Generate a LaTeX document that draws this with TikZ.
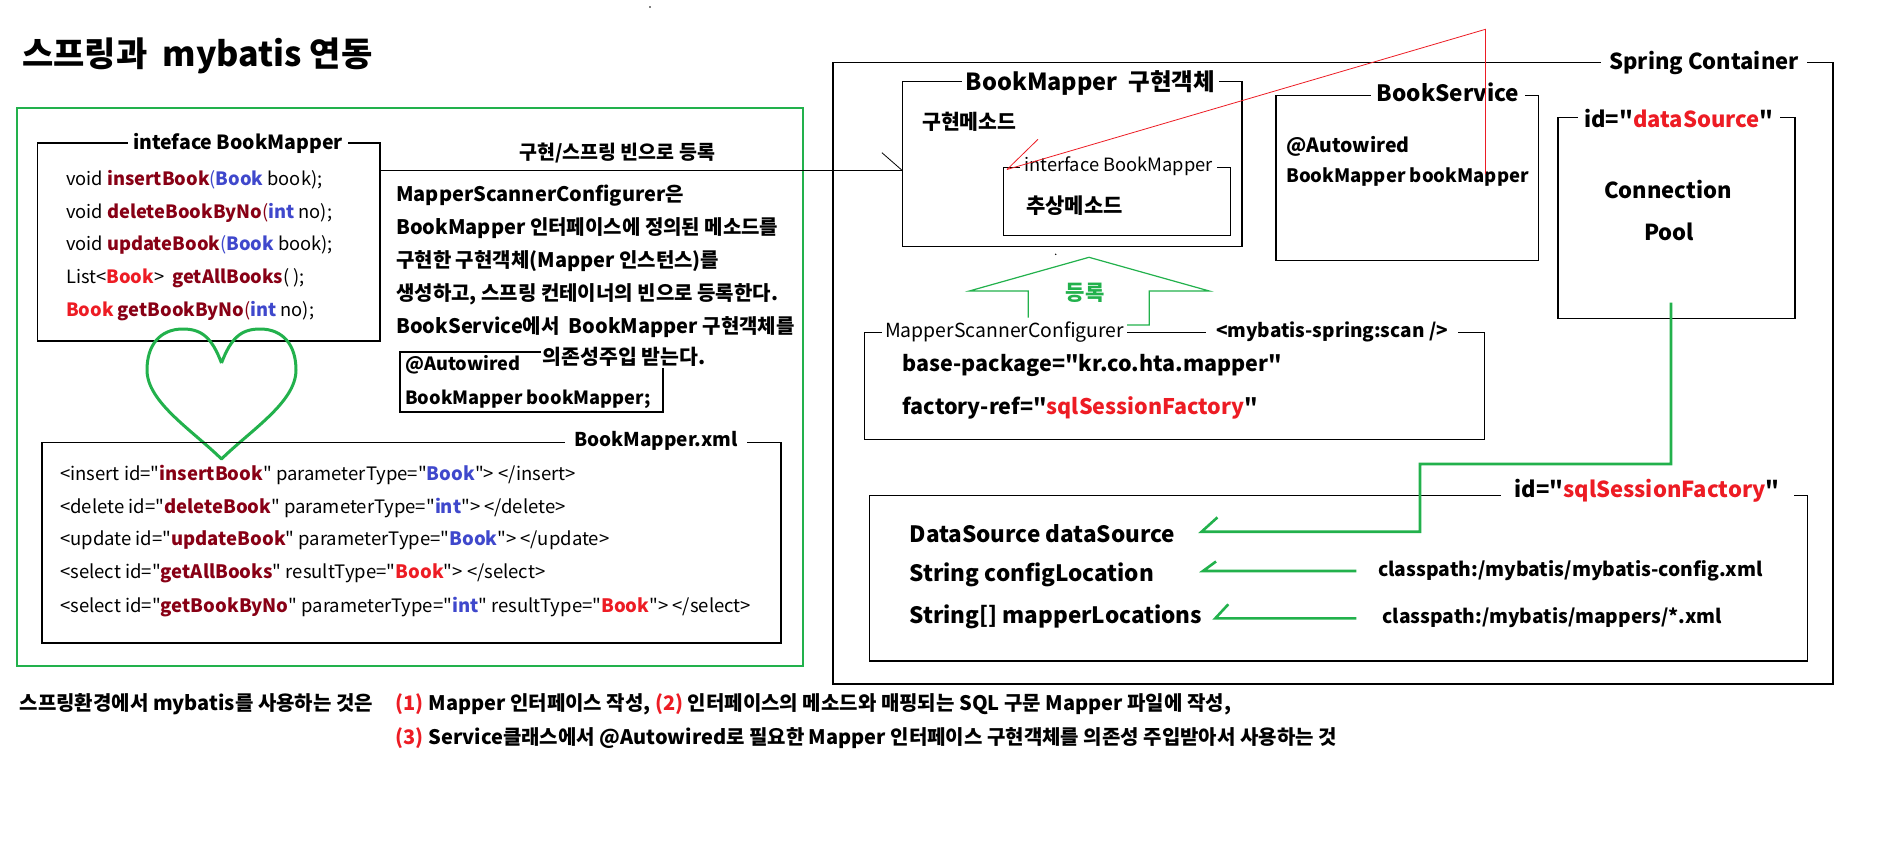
\documentclass[tikz,border=0pt]{standalone}
\usepackage{fontspec}
\setmainfont{Noto Sans CJK KR}[Ligatures=TeXOff]
\usetikzlibrary{calc}
\definecolor{pgreen}{RGB}{34,177,76}
\definecolor{dred}{RGB}{136,0,21}
\definecolor{pblue}{RGB}{63,72,204}
\definecolor{pred}{RGB}{237,28,36}
\newcommand\fs[1]{\fontsize{#1}{#1}\selectfont}
\newcommand\cDR[1]{\textbf{\color{dred}#1}}
\newcommand\cBL[1]{\textbf{\color{pblue}#1}}
\newcommand\cRD[1]{\textbf{\color{pred}#1}}
\tikzset{
  frame/.style={draw, line width=1.3pt, inner sep=0pt, outer sep=0pt, anchor=north west},
  ttl/.style={fill=white, inner xsep=5pt, inner ysep=1pt, font=\fs{19}\bfseries},
  txt/.style={inner sep=0pt, anchor=west},
  gline/.style={draw=pgreen, line width=2.6pt},
  thin/.style={line width=0.8pt},
}
\begin{document}
\begin{tikzpicture}[x=1pt,y=-1pt]
\useasboundingbox[fill=white] (0,0) rectangle (1898,859);

% title
\node[txt, font=\fs{34}\bfseries] (title) at (22,56) {스프링과\ \ mybatis 연동};
\fill (650,7) circle (0.8);
\fill (1055.7,254.3) circle (0.8);

% ---------- left green box ----------
\node[frame, draw=pgreen, line width=2.6pt, minimum width=786, minimum height=558] (gbox) at (17,108) {};

\node[frame, minimum width=342.5, minimum height=198] (ifbox) at (37.5,143) {};
\node[ttl, font=\fs{19.5}\bfseries] (tif) at (238,143) {inteface BookMapper};
\begin{scope}[every node/.style={txt, font=\fs{18.3}}]
\node (m1) at (66,180) {void \cDR{insertBook}{\color{pblue}(}\cBL{Book} book);};
\node (m2) at (66,212.5) {void \cDR{deleteBookByNo}{\color{dred}(}\cBL{int} no);};
\node (m3) at (66,245) {void \cDR{updateBook}{\color{pblue}(}\cBL{Book} book);};
\node (m4) at (66,278) {List<\cRD{Book}>\ \ \cDR{getAllBooks}( );};
\node (m5) at (66,311) {\cRD{Book} \cDR{getBookByNo}{\color{dred}(}\cBL{int} no);};
\end{scope}

% heart
\draw[pgreen, line width=3pt, line join=round]
  (221.5,363) .. controls (212,338) and (202,329) .. (183,329)
  .. controls (160,329) and (147,345) .. (147,370)
  .. controls (147,402) and (192,430) .. (221.5,459)
  .. controls (251,430) and (296,402) .. (296,370)
  .. controls (296,345) and (283,329) .. (260,329)
  .. controls (241,329) and (231,338) .. (221.5,363);

% xml box
\node[frame, minimum width=739, minimum height=200.3] (xmlbox) at (42,442.7) {};
\node[ttl, inner xsep=9pt] (txml) at (656,441) {BookMapper.xml};
\begin{scope}[every node/.style={txt, font=\fs{18.5}}]
\node (x1) at (60,475) {<insert id="\cDR{insertBook}" parameterType="\cBL{Book}"> </insert>};
\node (x2) at (60,507.7) {<delete id="\cDR{deleteBook}" parameterType="\cBL{int}"> </delete>};
\node (x3) at (60,540.7) {<update id="\cDR{updateBook}" parameterType="\cBL{Book}"> </update>};
\node (x4) at (60,573.3) {<select id="\cDR{getAllBooks}" resultType="\cRD{Book}"> </select>};
\node (x5) at (60,606.7) {<select id="\cDR{getBookByNo}" parameterType="\cBL{int}" resultType="\cRD{Book}"> </select>};
\end{scope}

% explanation
\node[txt, font=\fs{19.5}\bfseries] (reg) at (519,152.7) {구현/스프링 빈으로 등록};
\begin{scope}[every node/.style={txt, font=\fs{20}\bfseries}]
\node (e1) at (396,196) {MapperScannerConfigurer은};
\node (e2) at (396,228.5) {BookMapper 인터페이스에 정의된 메소드를};
\node (e3) at (396,261) {구현한 구현객체(Mapper 인스턴스)를};
\node (e4) at (396,294) {생성하고, 스프링 컨테이너의 빈으로 등록한다.};
\node (e5) at (396,327) {BookService에서\ \ BookMapper 구현객체를};
\end{scope}
\node[frame, line width=1.2pt, minimum width=263, minimum height=60] (autobox) at (400,352) {};
\node[txt, font=\fs{18.2}\bfseries] (a1) at (405,365) {@Autowired};
\node[txt, font=\fs{18.2}\bfseries] (a2) at (405,399.3) {BookMapper bookMapper;};
\node[fill=white, inner sep=2pt, font=\fs{20.5}\bfseries] (e6) at (624,356.5) {의존성주입 받는다.};

% ---------- Spring container ----------
\node[frame, minimum width=1000, minimum height=621.5] (spring) at (833,62.5) {};
\node[ttl, font=\fs{22}\bfseries, inner xsep=8pt] (tspring) at (1704,63) {Spring Container};

\node[frame, minimum width=339.5, minimum height=165] (impl) at (902.5,81.7) {};
\node[ttl, font=\fs{23.5}\bfseries, inner xsep=4pt] (timpl) at (1090.5,82.7) {BookMapper\ \ 구현객체};
\node[txt, font=\fs{20.5}\bfseries] (implm) at (922,121.7) {구현메소드};
\node[frame, minimum width=227, minimum height=67.6] (inif) at (1003.6,167.7) {};
\node[ttl, font=\fs{18.3}, inner xsep=4pt] (tinif) at (1118.5,165.7) {interface BookMapper};
\node[txt, font=\fs{21}\bfseries] (absm) at (1026,205.7) {추상메소드};

\node[frame, minimum width=262.5, minimum height=164.6] (svc) at (1276,95.7) {};
\node[ttl, font=\fs{22.5}\bfseries, inner xsep=6pt] (tsvc) at (1448,92.7) {BookService};
\node[txt, font=\fs{19.5}\bfseries] (s1) at (1286,146.7) {@Autowired};
\node[txt, font=\fs{18.5}\bfseries] (s2) at (1286,176.7) {BookMapper bookMapper};

\node[frame, minimum width=237, minimum height=200.6] (ds) at (1558,117.7) {};
\node[ttl, font=\fs{22}\bfseries, inner xsep=6pt] (tds) at (1679,119) {id="{\color{pred}dataSource}"};
\node[font=\fs{22}\bfseries, inner sep=0pt] (cp1) at (1668,190) {Connection};
\node[font=\fs{22}\bfseries, inner sep=0pt] (cp2) at (1669,231.7) {Pool};

% register arrow (green outline)
\draw[pgreen, line width=1.2pt] (1028.3,317.7) -- (1028.3,291) -- (969.3,291) -- (1089,257.3)
  -- (1209.3,291) -- (1149.3,291) -- (1149.3,325) -- (1123.3,325);
\node[font=\fs{21}\bfseries, text=pgreen, inner sep=0pt] (treg) at (1085,293.3) {등록};

% mapper scanner configurer
\node[frame, minimum width=620, minimum height=107] (msc) at (864.7,332.3) {};
\node[fill=white, inner xsep=3pt, inner ysep=1pt, font=\fs{19.4}] (tmsc) at (1004.7,331.7) {MapperScannerConfigurer};
\node[fill=white, inner xsep=10pt, inner ysep=1pt, font=\fs{19}\bfseries] (tscan) at (1332,331.7) {<mybatis-spring:scan />};
\node[txt, font=\fs{21.5}\bfseries] (bp) at (902.5,365) {base-package="kr.co.hta.mapper"};
\node[txt, font=\fs{21.5}\bfseries] (fr) at (902.5,408.3) {factory-ref="{\color{pred}sqlSessionFactory}"};

% sqlSessionFactory
\node[frame, minimum width=937.8, minimum height=165.3] (ssf) at (869.5,495.7) {};
\node[ttl, font=\fs{22}\bfseries, inner xsep=14pt] (tssf) at (1647,490.7) {id="{\color{pred}sqlSessionFactory}"};
\node[txt, font=\fs{22.5}\bfseries] (p1) at (909.4,533.3) {DataSource dataSource};
\node[txt, font=\fs{22.5}\bfseries] (p2) at (909.4,575) {String configLocation};
\node[txt, font=\fs{22.5}\bfseries] (p3) at (909.4,617.3) {String[] mapperLocations};
\node[txt, font=\fs{19.3}\bfseries] (cl1) at (1378,571) {classpath:/mybatis/mybatis-config.xml};
\node[txt, font=\fs{19.2}\bfseries] (cl2) at (1382.4,617.3) {classpath:/mybatis/mappers/*.xml};

% ---------- connectors ----------
\coordinate (regA) at ($(ifbox.north east)+(0,27.7)$);
\coordinate (regB) at (regA -| impl.west);
\draw[line width=1.2pt] (regA) -- (regB);
\draw[thin] (regB) -- ++(-20.6,-18);

\coordinate (pout) at ($(ds.south)+(-5.5,-15.6)$);
\coordinate (tip1) at (1201.6,531.7);
\draw[gline, line join=miter] (pout) -- (pout |- 0,464) -- (1420,464) -- (1420,531.7) -- (tip1) -- ++(15.8,-14.3);
\coordinate (tip2) at (1203,571);
\draw[gline] ($(cl1.west)+(-21.7,0)$) -- (tip2) -- ++(13,-9.5);
\coordinate (tip3) at (1215.3,618.3);
\draw[gline] ($(cl2.west)+(-26.1,1)$) -- (tip3) -- ++(13,-14);

% red lines
\coordinate (r0) at (1007,169.5);
\coordinate (r1) at (1485.5,29.3);
\draw[pred, thin] (r0) -- (r1) -- (1485.5,174);
\draw[pred, thin] (r0) -- (1038,139.3);

% ---------- bottom text ----------
\node[txt, font=\fs{20}\bfseries] (b1) at (19.6,704.3) {스프링환경에서 mybatis를 사용하는 것은};
\node[txt, font=\fs{20}\bfseries] (b2) at (395.5,704.3) {{\color{pred}(1)} Mapper 인터페이스 작성, {\color{pred}(2)} 인터페이스의 메소드와 매핑되는 SQL 구문 Mapper 파일에 작성,};
\node[txt, font=\fs{20}\bfseries] (b3) at (395.5,737.7) {{\color{pred}(3)} Service클래스에서 @Autowired로 필요한 Mapper 인터페이스 구현객체를 의존성 주입받아서 사용하는 것};
\end{tikzpicture}
\end{document}
